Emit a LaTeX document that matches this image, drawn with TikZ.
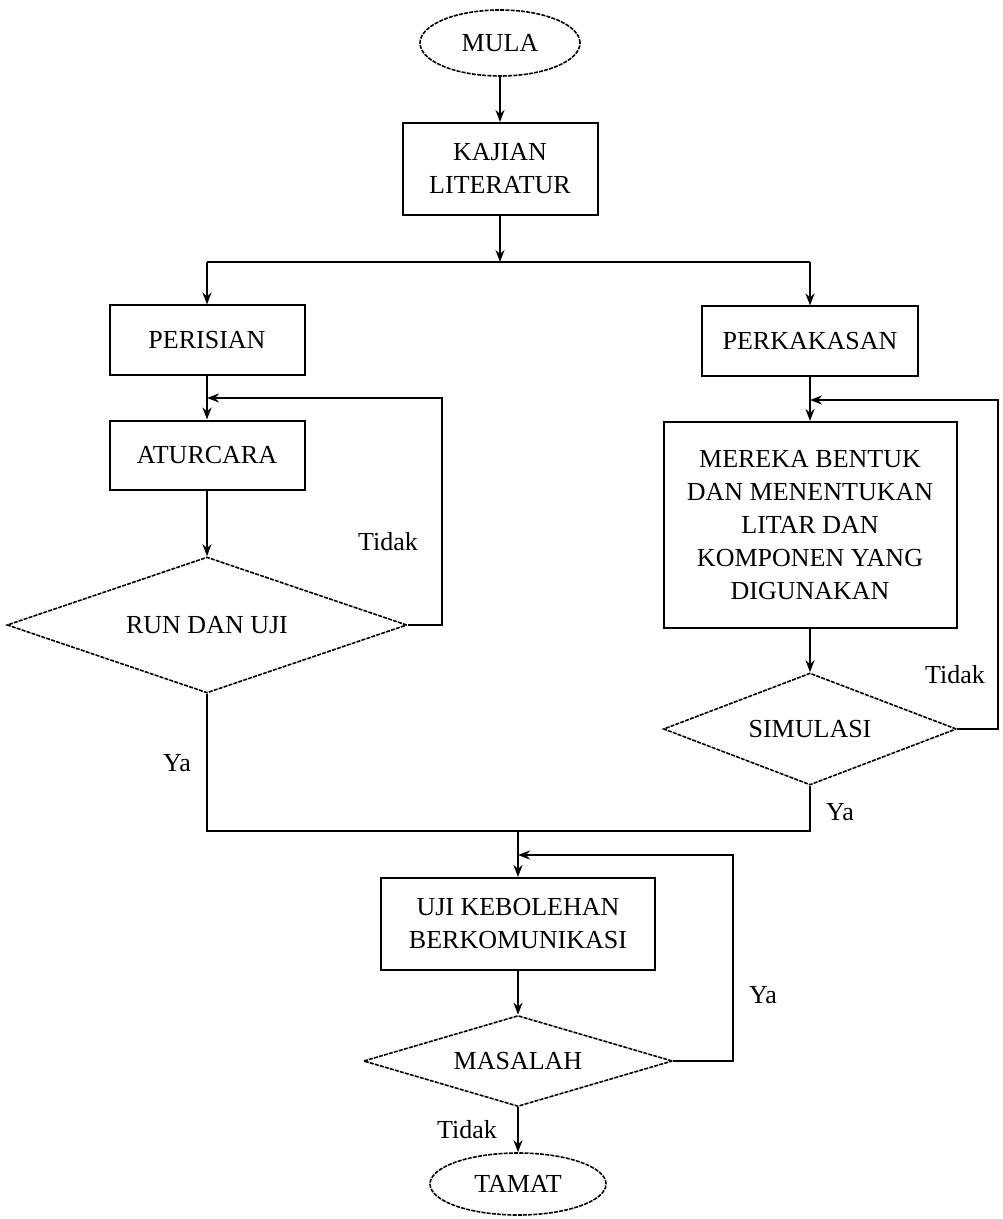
\documentclass[tikz,border=0pt]{standalone}
\usepackage{fontspec}
\setmainfont{Liberation Serif}
\usetikzlibrary{shapes.geometric,arrows.meta}
\begin{document}
\begin{tikzpicture}[x=0.5pt,y=-0.5pt,
 every node/.style={font=\fontsize{13}{16.5}\selectfont},
 proc/.style={draw,line width=1pt,inner sep=2pt,align=center},
 term/.style={draw,ellipse,dash pattern=on 2pt off 0.6pt,line width=0.8pt,inner sep=0pt},
 dec/.style={draw,diamond,dash pattern=on 2pt off 0.6pt,line width=0.8pt,inner sep=0pt,aspect=3},
 flow/.style={line width=1pt,-{Stealth[length=6pt,width=4.5pt]}},
 link/.style={line width=1pt},
 lbl/.style={inner sep=0pt}]
\useasboundingbox (0,0) rectangle (1002,1219);
% nodes
\node[term,minimum width=80pt,minimum height=33pt] (mula) at (500,43) {MULA};
\node[proc,minimum width=97.5pt,minimum height=46pt] (kaj) at (500,169) {KAJIAN\\LITERATUR};
\node[proc,minimum width=97.5pt,minimum height=34.5pt] (per) at (207,340) {PERISIAN};
\node[proc,minimum width=97.5pt,minimum height=34.5pt] (atur) at (207,455) {ATURCARA};
\node[dec,minimum width=200pt,minimum height=68pt] (run) at (207,625) {RUN DAN UJI};
\node[proc,minimum width=108pt,minimum height=34.5pt] (pkk) at (810,341) {PERKAKASAN};
\node[proc,minimum width=146.5pt,minimum height=103pt] (mer) at (810,525) {MEREKA BENTUK\\DAN MENENTUKAN\\LITAR DAN\\KOMPONEN YANG\\DIGUNAKAN};
\node[dec,minimum width=146.5pt,minimum height=56pt] (sim) at (810,729) {SIMULASI};
\node[proc,minimum width=137pt,minimum height=46pt] (uji) at (518,924) {UJI KEBOLEHAN\\BERKOMUNIKASI};
\node[dec,minimum width=154.5pt,minimum height=45.5pt] (mas) at (518,1061) {MASALAH};
\node[term,minimum width=88pt,minimum height=31pt] (tamat) at (518,1184) {TAMAT};
% labels
\node[lbl] (t1) at (388,542) {Tidak};
\node[lbl] (y1) at (177,763) {Ya};
\node[lbl] (t2) at (955,675) {Tidak};
\node[lbl] (y2) at (840,812) {Ya};
\node[lbl] (y3) at (763,995) {Ya};
\node[lbl] (t3) at (467,1130) {Tidak};
% coordinates
\coordinate (split) at (500,262);
\coordinate (sl) at (207,262);
\coordinate (sr) at (810,262);
\coordinate (lj) at (207,398);
\coordinate (lr) at (442,398);
\coordinate (rj) at (810,400);
\coordinate (rr) at (998,400);
\coordinate (ml) at (207,831);
\coordinate (mr) at (810,831);
\coordinate (mj) at (518,831);
\coordinate (bj) at (518,855);
\coordinate (br) at (733,855);
% connectors
\draw[flow] (mula) -- (kaj);
\draw[flow] (kaj) -- (split);
\draw[link] (sl) -- (sr);
\draw[flow] (sl) -- (per);
\draw[flow] (sr) -- (pkk);
\draw[flow] (per) -- (atur);
\draw[flow] (atur) -- (run);
\draw[flow] (run.east) -| (lr) -- (lj);
\draw[flow] (pkk) -- (mer);
\draw[flow] (mer) -- (sim);
\draw[flow] (sim.east) -| (rr) -- (rj);
\draw[link] (run.south) -- (ml) -- (mr) -- (sim.south);
\draw[flow] (mj) -- (uji);
\draw[flow] (uji) -- (mas);
\draw[flow] (mas.east) -| (br) -- (bj);
\draw[flow] (mas) -- (tamat);
\end{tikzpicture}
\end{document}
